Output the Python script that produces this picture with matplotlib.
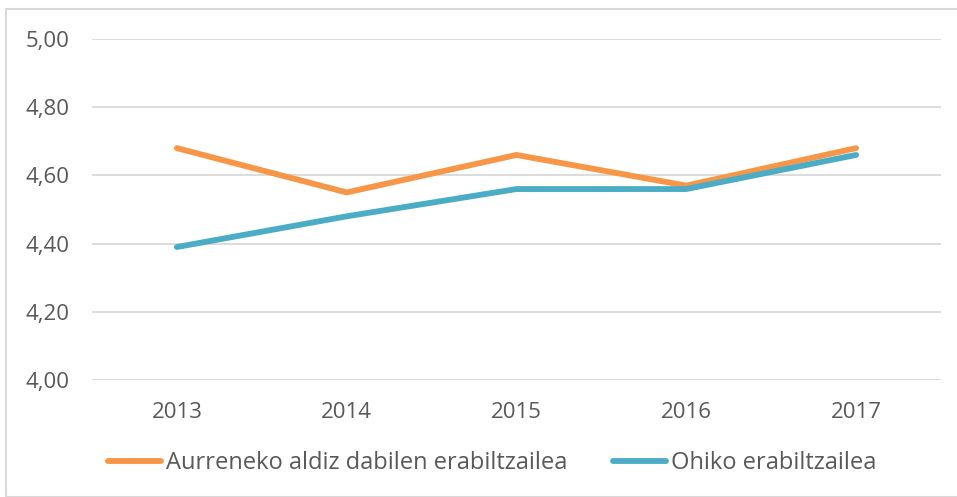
import matplotlib.pyplot as plt
from matplotlib.patches import Rectangle
from matplotlib.ticker import FuncFormatter

years = ["2013", "2014", "2015", "2016", "2017"]
aurreneko = [4.68, 4.55, 4.66, 4.57, 4.68]
ohiko = [4.39, 4.48, 4.56, 4.56, 4.66]
series_names = ["Aurreneko aldiz dabilen erabiltzailea", "Ohiko erabiltzailea"]

plt.rcParams["font.family"] = ["Open Sans", "DejaVu Sans"]
text_color = "#595959"

W, H = 957, 497
fig = plt.figure(figsize=(W / 100, H / 100), dpi=100)
ax = fig.add_axes([92 / W, 1 - 380 / H, (941 - 92) / W, (380 - 39) / H])

# outer chart frame
fig.patches.append(Rectangle((6 / W, 0), 1.2, 1 - 9 / H, transform=fig.transFigure,
                             fill=False, edgecolor="#d9d9d9", linewidth=1.5))

x = range(len(years))
ax.plot(x, aurreneko, color="#F79646", linewidth=4.2, solid_capstyle="round",
        label=series_names[0], zorder=3)
ax.plot(x, ohiko, color="#4BACC6", linewidth=4.2, solid_capstyle="round",
        label=series_names[1], zorder=3)

ax.set_xlim(-0.5, len(years) - 0.5)
ax.set_ylim(4.0, 5.0)
ax.set_yticks([4.0, 4.2, 4.4, 4.6, 4.8, 5.0])
ax.yaxis.set_major_formatter(FuncFormatter(lambda v, _: f"{v:.2f}".replace(".", ",")))
ax.set_xticks(list(x))
ax.set_xticklabels(years)

ax.grid(axis="y", color="#d9d9d9", linewidth=1.3)
ax.set_axisbelow(True)
for s in ax.spines.values():
    s.set_visible(False)
ax.tick_params(axis="both", length=0, labelsize=16, labelcolor=text_color)
ax.tick_params(axis="y", pad=16)
ax.tick_params(axis="x", pad=16)

fig.legend(loc="center", bbox_to_anchor=(492 / W, 1 - 463 / H), ncol=2, frameon=False,
           fontsize=17, labelcolor=text_color, handlelength=2.25, handletextpad=0.2,
           columnspacing=1.95)

fig.savefig("out.png", dpi=100)
